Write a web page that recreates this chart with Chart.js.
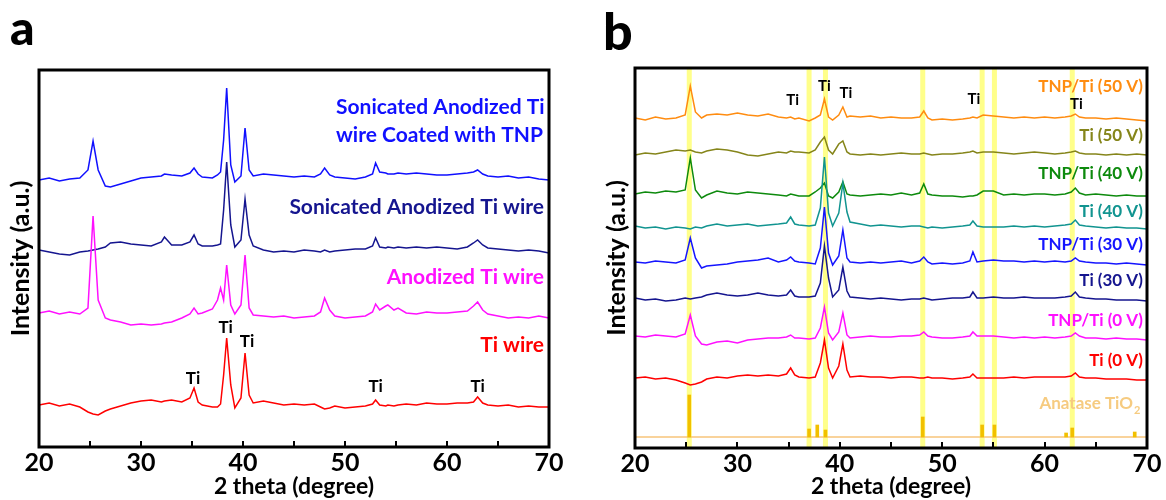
<!DOCTYPE html>
<html>
<head>
<meta charset="utf-8">
<script src="https://cdn.jsdelivr.net/npm/chart.js@4.4.0/dist/chart.umd.min.js"></script>
<style>
  body { margin: 0; background: #fff; }
  #wrap { position: relative; width: 1166px; height: 500px; overflow: hidden; }
  canvas { position: absolute; top: 0; }
  .tag { position: absolute; font-family: Lato, sans-serif; font-weight: 900; line-height: 1; color: #000; }
</style>
</head>
<body>
<div id="wrap">
  <canvas id="chartA" width="580" height="500" style="left:0"></canvas>
  <canvas id="chartB" width="586" height="500" style="left:580px"></canvas>
  <div class="tag" style="left:10px;top:3px;font-size:48px">a</div>
  <div class="tag" style="left:603px;top:4px;font-size:52px">b</div>
</div>
<script>
// ---- panel a : 2 theta grid and stacked intensities (a.u., offset included)
const twoThetaA = [20,21,22,23,24,24.8,25.3,25.8,26.5,27,28,29,30,31,32,32.3,33,34,34.8,35.2,35.6,36,
  37,37.5,37.8,38.1,38.4,38.8,39.2,39.8,40.2,40.6,41,42,43,44,45,46,47,47.6,48,48.5,49,50,51,52,
  52.7,53,53.4,54,54.2,54.8,55.2,56,57,58,59,60,61,62,62.6,63,63.5,64,65,66,67,68,69,70];

const tiWire = [42,44,41,43,40, 35,33,32,36, 38,41,44,46,47,45, 46, 47,45, 49,59,45,42,
  40,40,43,72,109,62,39,49,94,52,44, 46,44,42,43,42,43, 40,38,39,41, 39,40,41,
  43,47,42,41,42,41,42, 43,42,44,43,43,44,44, 45,50,44,42, 41,42,40,41,40,40];
const anodized = [134,136,133,135,133, 139,231,147,129, 127,125,122,123,122,123, 124, 125,129, 133,139,133,134,
  138,147,159,147,182,142,133,142,192,139,132, 131,130,131,129,130,131, 135,149,137,131, 129,130,131,
  135,143,137,141,142,137,139, 134,133,135,134,134,135,136, 141,145,137,133, 131,129,130,129,131,129];
const sonicated = [197,195,193,192,195, 196,197,198,200, 204,205,203,202,201,205, 210, 202,202, 205,212,203,201,
  201,202,203,237,285,222,200,207,248,212,201, 197,195,196,195,197,196, 195,197,195,196, 197,198,198,
  201,209,200,199,200,199,200, 199,200,199,200,199,198,200, 204,207,202,199, 198,197,196,197,196,194];
const sonicatedTnp = [267,269,266,268,269, 277,306,277,261, 260,263,266,269,270,271, 273, 272,271, 274,279,273,270,
  269,272,275,307,359,282,265,271,319,277,271, 273,272,271,270,271,270, 273,279,272,270, 269,268,270,
  273,284,275,274,273,273,274, 273,274,273,272,272,273,274, 275,277,273,271, 270,271,269,270,268,267];

// ---- panel b
const twoThetaB = [20,21,22,23,24,24.9,25.4,25.9,26.5,27,28,29,30,31,32,33,34,34.8,35.2,35.6,36,
  37,37.6,38.1,38.5,38.9,39.3,39.9,40.3,40.7,41,42,43,44,45,46,47,47.8,48.2,48.6,49,50,51,52,
  52.7,53,53.4,54,55,56,57,58,59,60,61,62,62.6,63,63.4,64,65,66,67,68,69,70];

const tnp50 = [330,328,331,329,330, 333,362,336,330, 333,334,333,335,333,332,334,331, 330,331,329,330,
  327,330,333,349,331,328,333,341,331,332, 331,332,330,331,330,330, 331,337,330,328, 329,328,329,
  330,331,330,333,332, 331,330,331,330,331,330,331, 332,334,331,330, 330,329,330,329,328,327];
const ti50 = [293,295,294,296,298, 297,298,296,295, 297,299,298,296,293,292,294,296, 295,297,296,296,
  295,298,306,311,298,294,304,307,296,294, 293,294,293,294,295,294, 294,295,294,293, 294,294,295,
  296,297,295,296,296, 295,294,295,296,295,294,295, 296,297,295,294, 294,293,294,293,294,293];
const tnp40 = [254,256,255,257,256, 258,290,258,250, 253,257,255,254,256,255,254,253, 252,254,253,252,
  252,256,260,265,252,250,256,266,254,253, 252,253,254,253,255,253, 255,264,254,253, 252,252,251,
  252,252,253,257,257, 253,254,253,254,254,253,254, 256,260,255,253, 254,253,252,253,252,252];
const ti40 = [222,220,221,219,221, 220,219,221,220, 222,224,222,223,224,222,223,224, 225,231,224,223,
  222,223,240,291,235,222,235,265,236,226, 224,222,223,222,221,222, 222,221,220,221, 220,221,222,
  223,227,222,221,221, 221,222,221,222,221,222,223, 224,228,223,222, 221,220,221,220,220,219];
const tnp30 = [186,185,187,186,185, 188,210,190,180, 182,183,184,186,187,188,190,186, 188,191,187,186,
  185,184,200,241,195,183,192,218,190,186, 185,186,185,186,187,185, 187,191,186,184, 185,184,185,
  187,196,186,187,188, 187,187,186,187,186,187,186, 187,190,187,186, 185,185,184,185,184,183];
const ti30 = [150,148,149,147,148, 150,149,150,151, 153,155,153,152,153,155,153,152, 153,158,152,151,
  151,152,165,202,170,151,158,181,157,151, 150,149,150,149,148,149, 149,150,149,148, 149,150,150,
  151,156,150,150,151, 150,150,151,150,150,150,151, 152,156,151,150, 149,149,148,148,148,147];
const tnp0 = [112,111,113,112,111, 114,133,112,104, 103,106,107,105,108,109,110,110, 111,113,110,110,
  109,110,120,141,115,108,116,135,113,110, 111,112,111,111,112,112, 113,116,112,111, 110,110,111,
  112,116,112,112,112, 111,110,111,110,111,110,111, 112,115,112,110, 110,109,110,109,109,108];
const ti0 = [70,71,69,70,68, 65,63,64,66, 69,71,70,72,73,72,73,72, 74,80,73,71,
  70,71,85,108,80,70,82,104,78,71, 72,71,71,70,71,71, 70,70,71,70, 70,69,70,
  71,74,70,70,70, 70,71,70,71,71,71,71, 72,75,71,70, 70,69,69,69,68,68];

// anatase TiO2 reference pattern
const anatasePos = [25.3, 37.0, 37.8, 38.6, 48.1, 53.9, 55.1, 62.1, 62.7, 68.8];
const anataseInt = [42, 8, 12, 7, 20, 12, 12, 4, 9, 5];
const anataseBase = 11;
const bandPos = [25.3, 37.0, 38.6, 48.1, 53.9, 55.1, 62.7];

const xRange = [20, 70];
const xMinorTicks = [25, 30, 35, 40, 45, 50, 55, 60, 65];

const FONT = 'Lato, "Open Sans", sans-serif';

const pts = (xs, ys) => xs.map((x, i) => ({ x: x, y: ys[i] }));
const trace = (label, xs, ys, color) => ({
  label: label, data: pts(xs, ys), borderColor: color, borderWidth: 1.5,
  pointRadius: 0, tension: 0, fill: false
});

// frame, inward ticks, highlight bands and in-plot labels
function makeDecor(texts, bands) {
  return {
    id: 'decor',
    beforeDatasetsDraw(chart) {
      if (!bands) return;
      const { ctx, chartArea: a, scales: { x } } = chart;
      ctx.save();
      ctx.fillStyle = '#ffff8a';
      bands.forEach(v => {
        const px = x.getPixelForValue(v);
        ctx.fillRect(px - 2.5, a.top, 5, a.height);
      });
      ctx.restore();
    },
    afterDraw(chart) {
      const { ctx, chartArea: a, scales: { x } } = chart;
      ctx.save();
      ctx.strokeStyle = '#000';
      ctx.lineWidth = 2;
      xMinorTicks.forEach(v => {
        const px = Math.round(x.getPixelForValue(v));
        ctx.beginPath();
        ctx.moveTo(px, a.bottom);
        ctx.lineTo(px, a.bottom - 6);
        ctx.stroke();
      });
      ctx.lineWidth = 3;
      ctx.strokeRect(a.left, a.top, a.right - a.left, a.bottom - a.top);
      ctx.textBaseline = 'middle';
      texts.forEach(t => {
        ctx.font = 'bold ' + t.size + 'px ' + FONT;
        ctx.fillStyle = t.color;
        ctx.textAlign = t.align || 'left';
        const px = t.at !== undefined ? x.getPixelForValue(t.at) : t.x;
        ctx.fillText(t.text, px, t.y);
        if (t.sub) {
          const w = ctx.measureText(t.text).width;
          const sx = t.align === 'right' ? px : px + w;
          ctx.font = 'bold ' + Math.round(t.size * 0.65) + 'px ' + FONT;
          ctx.textAlign = 'left';
          ctx.fillText(t.sub, sx + 1, t.y + 6);
        }
      });
      ctx.restore();
    }
  };
}

function panelOptions(pad, yWidth, xHeight, yMax, yTitlePad) {
  return {
    responsive: false,
    animation: false,
    devicePixelRatio: 1,
    layout: { padding: pad },
    plugins: {
      legend: { display: false },
      tooltip: { enabled: false }
    },
    scales: {
      x: {
        type: 'linear', min: xRange[0], max: xRange[1], offset: false,
        grid: { display: false, drawTicks: false },
        border: { display: false },
        ticks: { stepSize: 10, padding: 1, color: '#000', font: { family: FONT, size: 25, weight: 'bold' } },
        title: { display: true, text: '2 theta (degree)', color: '#000', padding: { top: 0, bottom: 0 },
                 font: { family: FONT, size: 23, weight: 'bold' } },
        afterFit: s => { s.height = xHeight; }
      },
      y: {
        type: 'linear', min: 0, max: yMax,
        grid: { display: false, drawTicks: false },
        border: { display: false },
        ticks: { display: false },
        title: { display: true, text: 'Intensity (a.u.)', color: '#000', padding: { top: yTitlePad, bottom: 0 },
                 font: { family: FONT, size: 25, weight: 'bold' } },
        afterFit: s => { s.width = yWidth; }
      }
    }
  };
}

const textsA = [
  { text: 'Sonicated Anodized Ti', x: 336, y: 107, size: 21, color: '#1010ff' },
  { text: 'wire Coated with TNP', x: 336, y: 135, size: 21, color: '#1010ff' },
  { text: 'Sonicated Anodized Ti wire', x: 544, y: 207, size: 21, color: '#15158f', align: 'right' },
  { text: 'Anodized Ti wire', x: 544, y: 277, size: 21, color: '#ff10ff', align: 'right' },
  { text: 'Ti wire', x: 544, y: 345, size: 21, color: '#ff0000', align: 'right' },
  { text: 'Ti', at: 35.1, y: 379, size: 17, color: '#000', align: 'center' },
  { text: 'Ti', at: 38.3, y: 328, size: 17, color: '#000', align: 'center' },
  { text: 'Ti', at: 40.4, y: 342, size: 17, color: '#000', align: 'center' },
  { text: 'Ti', at: 53.0, y: 387, size: 17, color: '#000', align: 'center' },
  { text: 'Ti', at: 63.0, y: 387, size: 17, color: '#000', align: 'center' }
];

const textsB = [
  { text: 'TNP/Ti (50 V)', x: 563, y: 87, size: 17, color: '#ff8c10', align: 'right' },
  { text: 'Ti (50 V)', x: 563, y: 136, size: 17, color: '#85851a', align: 'right' },
  { text: 'TNP/Ti (40 V)', x: 563, y: 174, size: 17, color: '#0d8a0d', align: 'right' },
  { text: 'Ti (40 V)', x: 563, y: 212, size: 17, color: '#119490', align: 'right' },
  { text: 'TNP/Ti (30 V)', x: 563, y: 245, size: 17, color: '#1515ff', align: 'right' },
  { text: 'Ti (30 V)', x: 563, y: 281, size: 17, color: '#15158f', align: 'right' },
  { text: 'TNP/Ti (0 V)', x: 563, y: 321, size: 17, color: '#ff10ff', align: 'right' },
  { text: 'Ti (0 V)', x: 563, y: 361, size: 17, color: '#ff0000', align: 'right' },
  { text: 'Anatase TiO', x: 553, y: 404, size: 17, color: '#f6cb80', align: 'right', sub: '2' },
  { text: 'Ti', at: 35.4, y: 100, size: 15, color: '#000', align: 'center' },
  { text: 'Ti', at: 38.5, y: 86, size: 15, color: '#000', align: 'center' },
  { text: 'Ti', at: 40.6, y: 93, size: 15, color: '#000', align: 'center' },
  { text: 'Ti', at: 53.1, y: 99, size: 15, color: '#000', align: 'center' },
  { text: 'Ti', at: 63.1, y: 104, size: 15, color: '#000', align: 'center' }
];

new Chart(document.getElementById('chartA'), {
  type: 'line',
  data: {
    datasets: [
      trace('Ti wire', twoThetaA, tiWire, '#ff0000'),
      trace('Anodized Ti wire', twoThetaA, anodized, '#ff10ff'),
      trace('Sonicated Anodized Ti wire', twoThetaA, sonicated, '#15158f'),
      trace('Sonicated Anodized Ti wire Coated with TNP', twoThetaA, sonicatedTnp, '#1010ff')
    ]
  },
  options: panelOptions({ top: 70, right: 31, left: 0, bottom: 0 }, 39, 53, 377, 6),
  plugins: [makeDecor(textsA, null)]
});

new Chart(document.getElementById('chartB'), {
  type: 'line',
  data: {
    datasets: [
      {
        type: 'bar', label: 'Anatase TiO2',
        data: anatasePos.map((p, i) => ({ x: p, y: [anataseBase, anataseBase + anataseInt[i]] })),
        backgroundColor: '#f2c000', barThickness: 3
      },
      trace('Anatase baseline', xRange, [anataseBase, anataseBase], '#f7c47a'),
      trace('Ti (0 V)', twoThetaB, ti0, '#ff0000'),
      trace('TNP/Ti (0 V)', twoThetaB, tnp0, '#ff10ff'),
      trace('Ti (30 V)', twoThetaB, ti30, '#15158f'),
      trace('TNP/Ti (30 V)', twoThetaB, tnp30, '#1515ff'),
      trace('Ti (40 V)', twoThetaB, ti40, '#119490'),
      trace('TNP/Ti (40 V)', twoThetaB, tnp40, '#0d8a0d'),
      trace('Ti (50 V)', twoThetaB, ti50, '#85851a'),
      trace('TNP/Ti (50 V)', twoThetaB, tnp50, '#ff8c10')
    ]
  },
  options: panelOptions({ top: 68, right: 19, left: 0, bottom: 0 }, 55, 52, 380, 22),
  plugins: [makeDecor(textsB, bandPos)]
});
</script>
</body>
</html>
